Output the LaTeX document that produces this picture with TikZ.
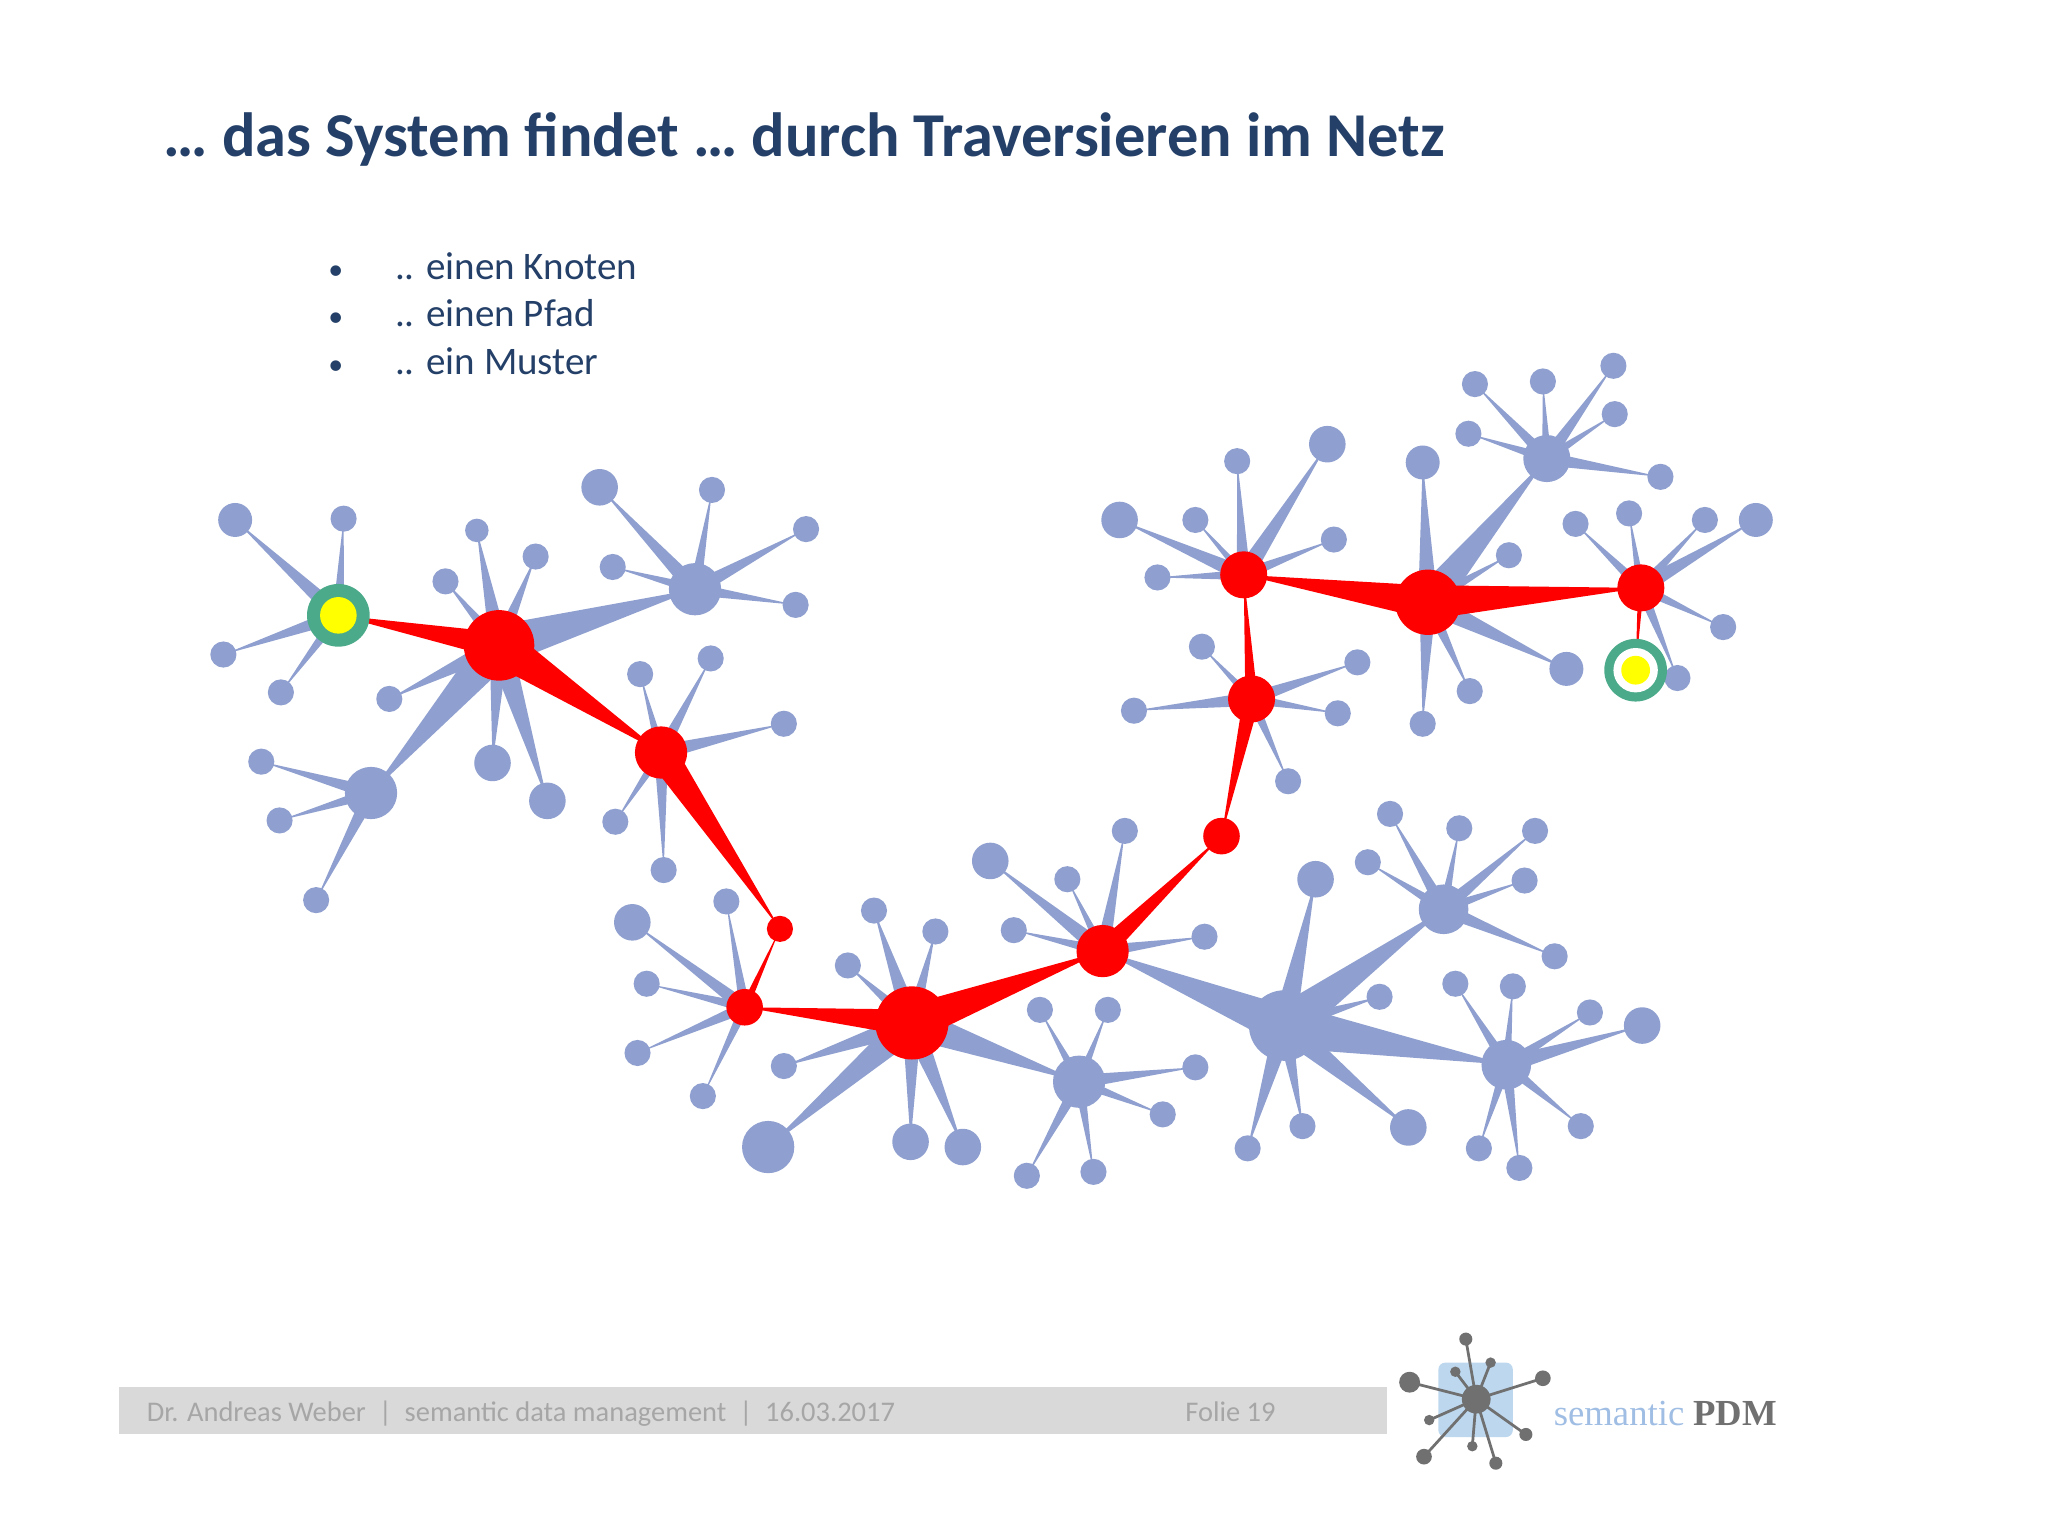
\documentclass[tikz,border=0pt]{standalone}
\usepackage{fontspec}
\setmainfont{Carlito}
\newfontfamily\seriffont{Liberation Serif}
\usetikzlibrary{calc}
\definecolor{leafc}{RGB}{143,160,208}
\definecolor{redc}{RGB}{255,0,0}
\definecolor{greenc}{RGB}{75,170,138}
\definecolor{yelc}{RGB}{255,255,0}
\definecolor{titlec}{RGB}{36,64,104}
\definecolor{bulletc}{RGB}{36,64,104}
\definecolor{footc}{RGB}{166,166,166}
\definecolor{barc}{RGB}{217,217,217}
\definecolor{logoblue}{RGB}{189,215,238}
\definecolor{logotext}{RGB}{160,190,228}
\definecolor{logogray}{RGB}{112,112,112}
\newcommand\pp[3]{\coordinate (#1) at (#2*0.02,-#3*0.02);}
\newcommand\wedgeE[4]{\fill[#4] ($(#1)!#3!90:(#2)$) -- ($(#1)!#3!-90:(#2)$) -- (#2) -- cycle;}
\newcommand\cluster[3]{\foreach \x/\y/\r in {#3}{\coordinate (t) at (\x*0.02,-\y*0.02);
  \ifnum\pass=1 \wedgeE{#1}{t}{#2}{leafc}\else \fill[leafc] (t) circle (\r*0.02);\fi}}
\newcommand\disc[3]{\fill[#3] (#1) circle (#2*0.02);}
\begin{document}
\begin{tikzpicture}
\useasboundingbox (0,0) rectangle (31.36,-23.52);
% coordinates
\pp{A}{259}{471}\pp{R1}{382}{494}\pp{B}{284}{607}\pp{C}{532}{451}
\pp{R2}{506}{576}\pp{R3}{597}{711}\pp{R4}{570}{771}\pp{R5}{698}{783}
\pp{D}{826}{828}\pp{R6}{844}{728}\pp{E}{983}{785}\pp{F}{1105}{696}
\pp{G}{1153}{815}\pp{R7}{935}{640}\pp{R8}{958}{535}\pp{R9}{952}{440}
\pp{R10}{1093}{461}\pp{H}{1184}{351}\pp{R11}{1256}{450}\pp{Z}{1252}{513}
\foreach \pass in {1,2}{
\cluster{A}{0.06}{180/398/13,263/397/10,171/501/10,215/530/10}
\cluster{R1}{0.08}{365/406/9,341/445/10,410/426/10,298/535/10,377/584/14,419/613/14}
\cluster{B}{0.06}{200/583/10,214/628/10,242/689/10}
\cluster{C}{0.06}{459/373/14,545/375/10,617/405/10,469/434/10,609/463/10}
\cluster{R2}{0.06}{490/516/10,544/504/10,600/554/10,471/629/10,508/666/10}
\cluster{R4}{0.05}{484/706/14,556/690/10,495/753/10,488/806/10,538/839/10}
\cluster{R5}{0.08}{669/697/10,716/713/10,649/739/10,600/816/10,588/878/20,697/874/14,737/878/14}
\cluster{D}{0.06}{796/773/10,848/773/10,915/817/10,890/853/10,786/900/10,837/897/10}
\cluster{R6}{0.06}{758/659/14,817/673/10,861/636/10,776/712/10,922/717/10}
\cluster{E}{0.08}{1007/673/14,1056/763/10,1078/863/14,997/862/10,955/879/10}
\cluster{F}{0.06}{1064/623/10,1117/634/10,1175/636/10,1047/660/10,1167/674/10,1190/732/10}
\cluster{G}{0.06}{1114/753/10,1158/755/10,1217/775/10,1257/785/14,1210/862/10,1163/894/10,1132/879/10}
\cluster{R8}{0.06}{920/495/10,1039/507/10,868/544/10,1024/546/10,986/598/10}
\cluster{R9}{0.06}{857/398/14,947/353/10,1016/340/14,915/398/10,1021/413/10,886/442/10}
\cluster{R10}{0.07}{1089/354/13,1155/425/10,1199/512/13,1125/529/10,1089/554/10}
\cluster{H}{0.06}{1129/294/10,1181/292/10,1235/280/10,1124/332/10,1236/317/10,1271/365/10}
\cluster{R11}{0.06}{1206/401/10,1247/393/10,1305/398/10,1344/398/13,1319/480/10,1284/519/10}
\ifnum\pass=1
 \wedgeE{R1}{B}{0.1}{leafc}\wedgeE{R1}{C}{0.1}{leafc}
 \wedgeE{R5}{D}{0.09}{leafc}\wedgeE{E}{R6}{0.1}{leafc}
 \wedgeE{E}{F}{0.1}{leafc}\wedgeE{E}{G}{0.1}{leafc}
 \wedgeE{R10}{H}{0.09}{leafc}
 \wedgeE{R1}{A}{0.08}{redc}\wedgeE{R1}{R2}{0.1}{redc}
 \wedgeE{R2}{R3}{0.07}{redc}\wedgeE{R4}{R3}{0.045}{redc}
 \wedgeE{R5}{R4}{0.08}{redc}\wedgeE{R5}{R6}{0.09}{redc}
 \wedgeE{R6}{R7}{0.06}{redc}\wedgeE{R8}{R7}{0.06}{redc}
 \wedgeE{R8}{R9}{0.05}{redc}\wedgeE{R10}{R9}{0.09}{redc}
 \wedgeE{R10}{R11}{0.08}{redc}\wedgeE{R11}{Z}{0.035}{redc}
\fi}
% hubs
\disc{B}{20}{leafc}\disc{C}{20}{leafc}\disc{D}{20}{leafc}\disc{E}{27}{leafc}
\disc{F}{19}{leafc}\disc{G}{19}{leafc}\disc{H}{18}{leafc}
\disc{R1}{27}{redc}\disc{R2}{20}{redc}\disc{R3}{10}{redc}\disc{R4}{14}{redc}
\disc{R5}{28}{redc}\disc{R6}{20}{redc}\disc{R7}{14}{redc}\disc{R8}{18}{redc}
\disc{R9}{18}{redc}\disc{R10}{25}{redc}\disc{R11}{18}{redc}
\disc{A}{24}{greenc}\disc{A}{14}{yelc}
\disc{Z}{24}{greenc}\disc{Z}{17}{white}\disc{Z}{11}{yelc}
% title and bullets
\node[anchor=base west,text=titlec,font=\bfseries\fontsize{27.2}{32}\selectfont,inner sep=0] (title) at (125*0.02,-120*0.02) {… das System findet … durch Traversieren im Netz};
\foreach \t/\y [count=\i] in {.. einen Knoten/214,.. einen Pfad/250,.. ein Muster/287}{
 \node[anchor=base west,text=bulletc,font=\fontsize{17}{20}\selectfont,inner sep=0] (b\i) at (302*0.02,-\y*0.02) {\t};
 \node[anchor=base,text=bulletc,font=\fontsize{13}{16}\selectfont,inner sep=0] (d\i) at (257*0.02,-\y*0.02) {•};}
% footer
\fill[barc] (91*0.02,-1062*0.02) rectangle (1062*0.02,-1098*0.02);
\node[anchor=base west,text=footc,font=\fontsize{12.4}{14}\selectfont,inner sep=0] (foot) at (112*0.02,-1088*0.02) {Dr. Andreas Weber~~|~~semantic data management~~|~~16.03.2017};
\node[anchor=base west,text=footc,font=\fontsize{12.4}{14}\selectfont,inner sep=0] (folie) at (907*0.02,-1088*0.02) {Folie 19};
% logo
\pp{L}{1130}{1071}
\fill[logoblue,rounded corners=3pt] (1101*0.02,-1043*0.02) rectangle (1158*0.02,-1100*0.02);
\foreach \x/\y/\r in {1122/1025/5,1079/1058/8,1181/1055/6,1090/1115/6,1145/1120/5,1168/1098/5,1127/1107/4,1094/1087/4,1114/1050/4,1141/1043/4}{
 \coordinate (t) at (\x*0.02,-\y*0.02);
 \draw[logogray,line width=1.2pt] (L) -- (t);
 \fill[logogray] (t) circle (\r*0.02);}
\disc{L}{11}{logogray}
\node[anchor=base west,inner sep=0,font=\seriffont\fontsize{16}{19}\selectfont] (logo) at (1189*0.02,-1091*0.02) {\textcolor{logotext}{semantic} \textcolor{logogray}{\bfseries PDM}};
\end{tikzpicture}
\end{document}
